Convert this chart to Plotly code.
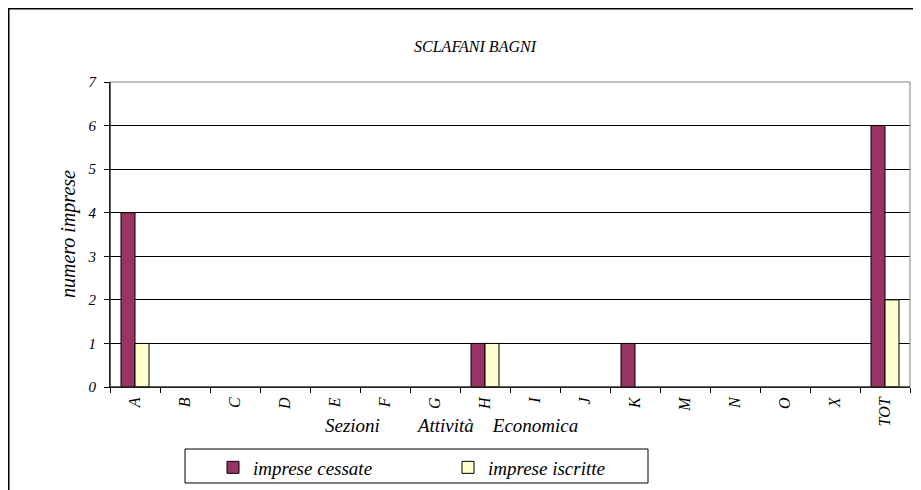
import plotly.graph_objects as go

categories = ["A", "B", "C", "D", "E", "F", "G", "H", "I", "J", "K", "M", "N", "O", "X", "TOT"]
cessate = [4, 0, 0, 0, 0, 0, 0, 1, 0, 0, 1, 0, 0, 0, 0, 6]
iscritte = [1, 0, 0, 0, 0, 0, 0, 1, 0, 0, 0, 0, 0, 0, 0, 2]

FONT = "Liberation Serif"

def outline(vals):
    return [1 if v else 0 for v in vals]

fig = go.Figure()
fig.add_trace(go.Bar(x=categories, y=cessate, name="imprese cessate",
                     marker=dict(color="#993366", line=dict(color="#000000", width=outline(cessate)))))
fig.add_trace(go.Bar(x=categories, y=iscritte, name="imprese iscritte",
                     marker=dict(color="#FFFFCC", line=dict(color="#000000", width=outline(iscritte)))))

# page body has an 8px offset; helpers take on-screen pixel positions
OFF = 8
W, H = 921, 490
L, R, T, B = 102, 19, 74, 111
pw, ph = W - L - R, H - T - B

def fx(sx):
    return (sx - OFF - L) / pw

def fy(sy):
    return (H - B - (sy - OFF)) / ph

fig.update_layout(
    width=W, height=H,
    margin=dict(l=L, r=R, t=T, b=B, autoexpand=False),
    paper_bgcolor="white", plot_bgcolor="white",
    barmode="group", bargap=0.44, bargroupgap=0,
    font=dict(family=FONT, color="#000000"),
    title=dict(text="<i>SCLAFANI BAGNI</i>", x=(475 - OFF) / W, xanchor="center",
               y=1 - (46.5 - OFF) / H, yanchor="middle", font=dict(size=16, family=FONT)),
    xaxis=dict(type="category", showline=True, linecolor="#000000", linewidth=1,
               ticks="outside", ticklen=5, tickcolor="#000000", tickson="boundaries",
               tickangle=-90, showgrid=False, automargin=False,
               ticklabelstandoff=3,
               tickfont=dict(size=16, family=FONT, style="italic")),
    yaxis=dict(range=[0, 7], dtick=1, showline=True, linecolor="#000000", linewidth=1,
               ticks="outside", ticklen=5, tickcolor="#000000", automargin=False,
               showgrid=True, gridcolor="#000000", gridwidth=1, zeroline=False,
               ticklabelstandoff=5,
               tickfont=dict(size=15, family=FONT, style="italic")),
    legend=dict(orientation="h", x=fx(213), xanchor="left", y=fy(448.5), yanchor="top",
                borderwidth=0, bgcolor="rgba(0,0,0,0)",
                entrywidth=190, entrywidthmode="pixels",
                font=dict(size=19, family=FONT, style="italic")),
    showlegend=True,
)

# y-axis title
fig.add_annotation(text="<i>numero imprese</i>", textangle=-90,
                   xref="paper", yref="paper", x=fx(68.5), y=fy(234.5), xanchor="center",
                   yanchor="middle", showarrow=False, font=dict(size=20, family=FONT))
# x-axis title
fig.add_annotation(text="<i>Sezioni" + "\u00a0" * 8 + "Attività" + "\u00a0" * 4 + "Economica</i>",
                   xref="paper", yref="paper", x=fx(451.5), y=fy(425), xanchor="center",
                   yanchor="middle", showarrow=False, font=dict(size=19, family=FONT))

# legend box
fig.add_shape(type="rect", xref="paper", yref="paper", x0=fx(185), x1=fx(648), y0=fy(483), y1=fy(449),
              line=dict(color="#000000", width=1), layer="above")
# plot-area border (gray)
fig.add_shape(type="rect", xref="paper", yref="paper", x0=0, x1=1, y0=0, y1=1,
              line=dict(color="#808080", width=1), layer="above")
# outer chart border
fig.add_shape(type="rect", xref="paper", yref="paper", x0=(0.75 - L) / pw, x1=(W + 5 - L) / pw,
              y0=(-B - 5) / ph, y1=(H - B - 0.75) / ph,
              line=dict(color="#000000", width=1.5), layer="above")
# left/bottom axis lines black
fig.add_shape(type="line", xref="paper", yref="paper", x0=0, x1=0, y0=0, y1=1,
              line=dict(color="#000000", width=1), layer="above")
fig.add_shape(type="line", xref="paper", yref="paper", x0=0, x1=1, y0=0, y1=0,
              line=dict(color="#000000", width=1), layer="above")

fig.write_html("out.html")
